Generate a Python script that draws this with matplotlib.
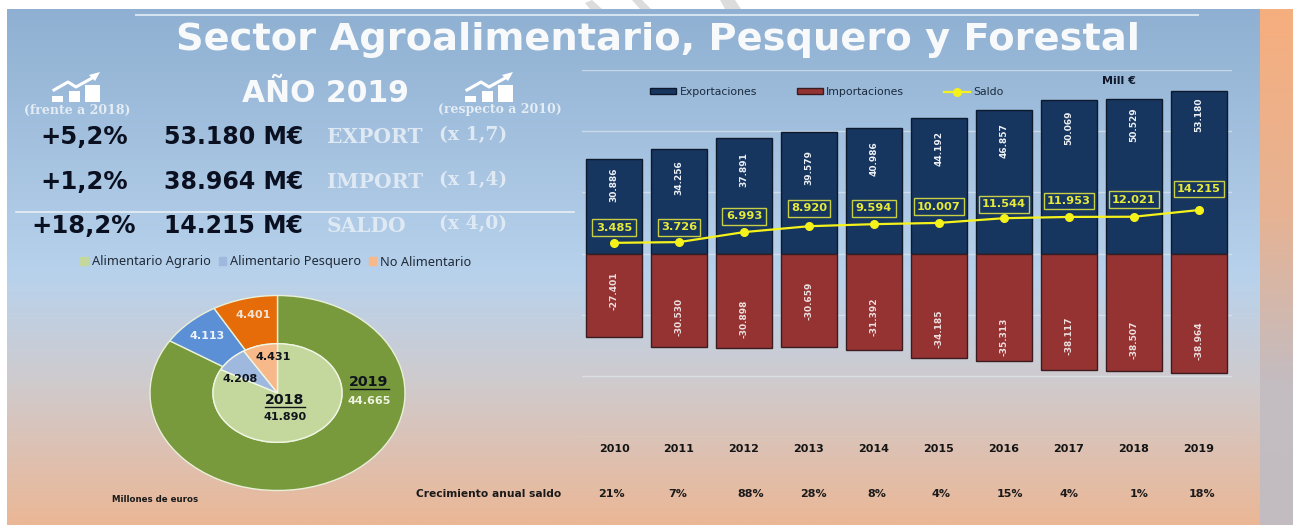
import numpy as np
import matplotlib
matplotlib.use("Agg")
import matplotlib.pyplot as plt
from matplotlib.colors import LinearSegmentedColormap
from matplotlib.patches import Patch, Polygon, Rectangle

W, H = 1301, 525

years = ["2010", "2011", "2012", "2013", "2014", "2015", "2016", "2017", "2018", "2019"]
exports = [30886, 34256, 37891, 39579, 40986, 44192, 46857, 50069, 50529, 53180]
imports = [-27401, -30530, -30898, -30659, -31392, -34185, -35313, -38117, -38507, -38964]
saldo = [3485, 3726, 6993, 8920, 9594, 10007, 11544, 11953, 12021, 14215]
growth = ["21%", "7%", "88%", "28%", "8%", "4%", "15%", "4%", "1%", "18%"]

pie_names = ["Alimentario Agrario", "Alimentario Pesquero", "No Alimentario"]
pie_2019 = [44665, 4113, 4401]
pie_2018 = [41890, 4208, 4431]

kpi_change = ["+5,2%", "+1,2%", "+18,2%"]
kpi_value = ["53.180 M€", "38.964 M€", "14.215 M€"]
kpi_name = ["EXPORT", "IMPORT", "SALDO"]
kpi_times = ["(x 1,7)", "(x 1,4)", "(x 4,0)"]

# hand placed label offsets in pixels, the original labels were moved around by hand
export_drop = [26, 29, 32, 35, 30, 30, 30, 27, 26, 24]
import_lift = [47, 30, 29, 46, 33, 29, 25, 34, 31, 32]
saldo_lift = [15, 15, 16, 18, 16, 16, 14, 16, 17, 21]
growth_shift = [-3, -1, 7, 4, 3, 2, 6, 0, 5, 3]

PX = 0.72  # points per pixel at dpi 100


def fmt(v):
    return "{:,}".format(v).replace(",", ".")


def rect(x0, y0, x1, y1):
    # pixel box to figure fractions
    return [x0 / W, 1 - y1 / H, (x1 - x0) / W, (y1 - y0) / H]


def icon(ax, x, y):
    # little chart sign, x,y is its lower left corner
    for dx, w, h in [(0, 11, 6), (17, 11, 11), (33, 15, 17)]:
        ax.add_patch(Rectangle((x + dx, y - h), w, h, color="white", lw=0))
    ax.plot([x + 2, x + 16, x + 24, x + 42], [y - 12, y - 20, y - 15, y - 25], color="white", lw=2.2)
    ax.add_patch(Polygon([(x + 37, y - 27), (x + 48, y - 30), (x + 43, y - 21)], color="white", lw=0))


fig = plt.figure(figsize=(W / 100, H / 100), dpi=100, facecolor="white")

# backdrop and all the loose text, in pixel coordinates
bg = fig.add_axes([0, 0, 1, 1], zorder=0)
bg.axis("off")
main_cmap = LinearSegmentedColormap.from_list(
    "m", [(0, "#8fb0d2"), (0.52, "#b8d2ec"), (0.72, "#cfcbce"), (1, "#ebb796")])
side_cmap = LinearSegmentedColormap.from_list(
    "s", [(0, "#f6ae7e"), (0.4, "#e6b394"), (0.72, "#c4bcc0"), (1, "#c2bcc0")])
grad = np.linspace(0, 1, 256).reshape(-1, 1)
bg.imshow(grad, cmap=main_cmap, extent=(7, 1260, 525, 9), aspect="auto", zorder=0)
bg.imshow(grad, cmap=side_cmap, extent=(1260, 1293, 525, 9), aspect="auto", zorder=0)
bg.set_xlim(0, W)
bg.set_ylim(H, 0)

# bits of the watermark above the slide
for stroke in [[(585, 3), (592, 0), (602, 9), (590, 9)],
               [(632, 0), (642, 0), (651, 9), (640, 9)],
               [(720, 0), (735, 0), (741, 9), (725, 9)]]:
    bg.add_patch(Polygon(stroke, color="#dcdcdc", lw=0))

bg.plot([136, 1198], [15, 15], color="#d5e3f0", lw=1.5, zorder=1)
bg.plot([16, 574], [212, 212], color="#e8f0f8", lw=1.2, zorder=1)

bg.text(658, 40, "Sector Agroalimentario, Pesquero y Forestal", color="#f7f9fb", fontsize=27.6,
        fontweight="bold", ha="center", va="center")
bg.text(325, 94, "AÑO 2019", color="#f7f9fb", fontsize=21.5, fontweight="bold", ha="center", va="center")
icon(bg, 52, 102)
icon(bg, 465, 102)
bg.text(77, 110, "(frente a 2018)", color="#e4ecf4", fontsize=9, fontweight="bold", family="DejaVu Serif",
        ha="center", va="center")
bg.text(500, 110, "(respecto a 2010)", color="#e4ecf4", fontsize=9, fontweight="bold", family="DejaVu Serif",
        ha="center", va="center")

for i, row_y in enumerate([137, 182, 226]):
    bg.text(128 if i < 2 else 136, row_y, kpi_change[i], color="#0b1020", fontsize=17.5, fontweight="bold",
            ha="right", va="center")
    bg.text(303, row_y, kpi_value[i], color="#0b1020", fontsize=17, fontweight="bold", ha="right", va="center")
    bg.text(327, row_y, kpi_name[i], color="#dfe9f3", fontsize=14.5, fontweight="bold", family="DejaVu Serif",
            ha="left", va="center")
    bg.text(439, row_y - 2, kpi_times[i], color="#dfe9f3", fontsize=13.5, fontweight="bold", family="DejaVu Serif",
            ha="left", va="center")

bg.text(155, 499, "Millones de euros", color="#1a1a1a", fontsize=6.2, fontweight="bold", ha="center", va="center")
bg.text(489, 494, "Crecimiento anual saldo", color="#1a1a1a", fontsize=7.7, fontweight="bold", ha="center", va="center")
bg.text(1102, 81, "Mill €", color="#10182a", fontsize=8, fontweight="bold", ha="left", va="center")

# donuts, squashed like in the original
pie_ax = fig.add_axes(rect(150, 295.5, 405, 490.5), zorder=2)
outer_cols = ["#789a3c", "#5b8fd6", "#e66c0a"]
inner_cols = ["#c4d89e", "#9fb9de", "#f7b98a"]
pie_ax.pie(pie_2019, radius=1, colors=outer_cols, startangle=90, counterclock=False,
           wedgeprops=dict(width=0.494, edgecolor="#e9f0d8", linewidth=1))
pie_ax.pie(pie_2018, radius=0.506, colors=inner_cols, startangle=90, counterclock=False,
           wedgeprops=dict(edgecolor="#f0f5e4", linewidth=1))
pie_ax.set_aspect("auto")
pie_ax.set_xlim(-1, 1)
pie_ax.set_ylim(-1, 1)

top = fig.add_axes([0, 0, 1, 1], zorder=4)
top.set_xlim(0, W)
top.set_ylim(H, 0)
top.axis("off")
top.patch.set_alpha(0)
pie_font = dict(fontsize=8, fontweight="bold", ha="center", va="center")
top.text(207, 336, fmt(pie_2019[1]), color="#eef3fa", **pie_font)
top.text(253, 315, fmt(pie_2019[2]), color="#f6e4d4", **pie_font)
top.text(369, 401, fmt(pie_2019[0]), color="#eef3e0", **pie_font)
top.text(240, 379, fmt(pie_2018[1]), color="#10151c", **pie_font)
top.text(273, 357, fmt(pie_2018[2]), color="#10151c", **pie_font)
top.text(285, 417, fmt(pie_2018[0]), color="#10151c", **pie_font)
top.text(369, 382, "2019", color="#10151c", fontsize=10.2, fontweight="bold", ha="center", va="center")
top.text(285, 400, "2018", color="#10151c", fontsize=10.2, fontweight="bold", ha="center", va="center")
top.plot([350, 389], [389, 389], color="#10151c", lw=1)
top.plot([265, 305], [407, 407], color="#10151c", lw=1)

handles = [Patch(color=c) for c in inner_cols]
fig.legend(handles, pie_names, loc="center", bbox_to_anchor=(276 / W, 1 - 262 / H), ncols=3, frameon=False,
           handlelength=0.6, handleheight=0.6, handletextpad=0.3, columnspacing=0.6,
           labelcolor="#1f2a36", prop=dict(family="Noto Sans", size=9.2))

# stacked export / import chart
ax = fig.add_axes(rect(581.5, 70, 1231.5, 437), zorder=3)
ax.patch.set_alpha(0)
x = np.arange(len(years))
b1 = ax.bar(x, exports, width=0.85, color="#16355f", edgecolor="#0e1a2c", linewidth=1, label="Exportaciones")
b2 = ax.bar(x, imports, width=0.85, color="#953333", edgecolor="#3a1c20", linewidth=1, label="Importaciones")
l1, = ax.plot(x, saldo, color="#f4f21a", lw=1.6, marker="o", ms=5.5, label="Saldo")
ax.set_xlim(-0.5, 9.5)
ax.set_ylim(-60000, 60000)
ax.set_yticks(np.arange(-60000, 60001, 20000))
ax.yaxis.set_tick_params(length=0, labelleft=False)
ax.grid(axis="y", color="#e6edf4", alpha=0.6, lw=1)
ax.set_axisbelow(True)
ax.set_xticks(x, years, fontsize=8, fontweight="bold", color="#141414")
ax.tick_params(axis="x", length=0, pad=5)
for s in ax.spines.values():
    s.set_visible(False)

for i in range(len(years)):
    ax.annotate(fmt(exports[i]), (x[i], exports[i]), xytext=(0, -export_drop[i] * PX), textcoords="offset points",
                rotation=90, color="#eef2f6", fontsize=6.5, fontweight="bold", ha="center", va="center")
    ax.annotate(fmt(imports[i]), (x[i], imports[i]), xytext=(0, import_lift[i] * PX), textcoords="offset points",
                rotation=90, color="#eee0e0", fontsize=6.5, fontweight="bold", ha="center", va="center")
    ax.annotate(fmt(saldo[i]), (x[i], saldo[i]), xytext=(0, saldo_lift[i] * PX), textcoords="offset points",
                color="#e6ea3a", fontsize=8.2, fontweight="bold", ha="center", va="center",
                bbox=dict(boxstyle="square,pad=0.3", fc="#16355f", ec="#c8cf46", lw=1))
    ax.annotate(growth[i], (x[i], 0), xycoords=("data", "axes fraction"),
                xytext=(growth_shift[i] * PX, -41), textcoords="offset points", color="#1a1a1a",
                fontsize=8, fontweight="bold", ha="center", va="center")

ax.legend([b1, b2, l1], ["Exportaciones", "Importaciones", "Saldo"], loc="center", bbox_to_anchor=(0.378, 0.94),
          ncols=3, frameon=False, fontsize=7.8, handlelength=2.4, handleheight=0.5, handletextpad=0.3,
          columnspacing=3.7, labelcolor="#1c2a3c")

fig.savefig("out.png", dpi=100)
